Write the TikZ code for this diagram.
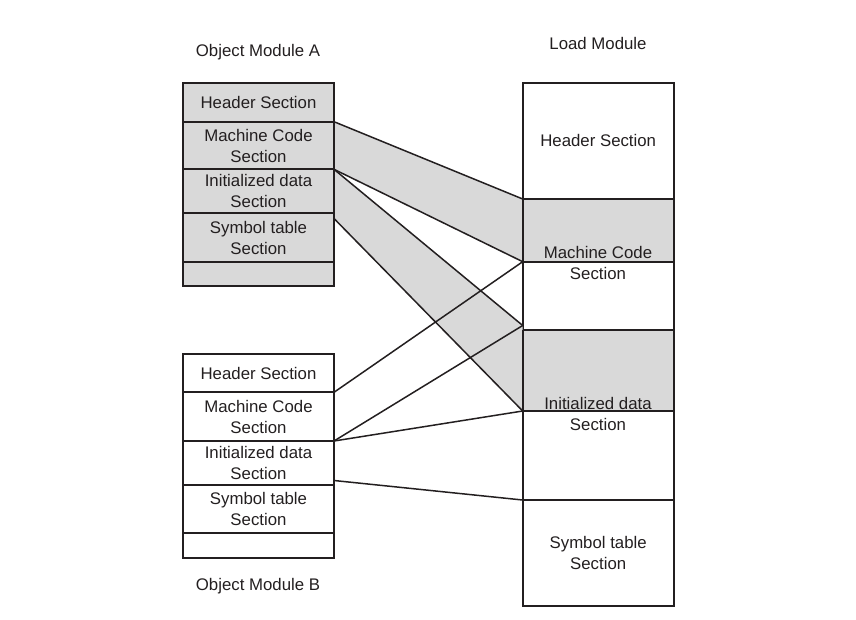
\documentclass[tikz,border=0pt]{standalone}
\usepackage{fontspec}
\setmainfont{Liberation Sans}
\definecolor{secgray}{RGB}{217,217,217}
\definecolor{ink}{RGB}{35,31,32}
\tikzset{
  txt/.style={font=\fontsize{16.8}{21}\selectfont, align=center, inner sep=0pt, text=ink},
  row/.style={txt, draw=ink, line width=1.8pt, minimum width=151pt, anchor=north west, outer sep=0pt},
  grayrow/.style={row, fill=secgray},
  conn/.style={draw=ink, line width=1.5pt},
  band/.style={fill=secgray}
}
\begin{document}
\begin{tikzpicture}[x=1pt,y=-1pt]
\useasboundingbox (0,0) rectangle (856,619);
% Object Module A
\node[grayrow, minimum height=38.7pt] (ahd) at (183,83) {Header Section};
\node[grayrow, minimum height=47.6pt] (amc) at (183,121.7) {Machine Code\\Section};
\node[grayrow, minimum height=44pt] (aid) at (183,169.3) {Initialized data\\Section};
\node[grayrow, minimum height=48.4pt] (ast) at (183,213.3) {Symbol table\\Section};
\node[grayrow, minimum height=24.3pt] (aem) at (183,261.7) {};
% Object Module B
\node[row, minimum height=38.3pt] (bhd) at (183,354) {Header Section};
\node[row, minimum height=48.7pt] (bmc) at (183,392.3) {Machine Code\\Section};
\node[row, minimum height=44pt] (bid) at (183,441) {Initialized data\\Section};
\node[row, minimum height=48.3pt] (bst) at (183,485) {Symbol table\\Section};
\node[row, minimum height=25pt] (bem) at (183,533.3) {};
% Load Module
\node[row, minimum height=116.3pt] (lhd) at (522.7,82.7) {Header Section};
\node[row, fill=secgray, minimum height=62.7pt] (lmcg) at (522.7,199) {};
\node[row, minimum height=68.3pt] (lmcw) at (522.7,261.7) {};
\node[row, fill=secgray, minimum height=81pt] (lidg) at (522.7,330) {};
\node[row, minimum height=89pt] (lidw) at (522.7,411) {};
\node[row, minimum height=106pt] (lst) at (522.7,500) {Symbol table\\Section};
\node[txt] (lmct) at (598,263) {Machine Code\\Section};
\node[txt] (lidt) at (598,414) {Initialized data\\Section};
% titles
\node[txt] (ta) at (258,52) {Object Module A};
\node[txt] (tl) at (598,43) {Load Module};
\node[txt] (tb) at (258,586) {Object Module B};
% coordinates
\coordinate (a3) at (334,218.5);
\coordinate (b4) at (334,480.5);
\coordinate (l3) at (522.7,325.5);
% bands
\fill[band] (amc.north east) -- (lmcg.north west) -- (lmcg.south west) -- (aid.north east) -- cycle;
\fill[band] (aid.north east) -- (l3) -- (lidg.south west) -- (a3) -- cycle;
% redraw borders on top of bands
\draw[draw=ink, line width=1.8pt] (lmcg.north west) -- (lmcg.south west);
\draw[draw=ink, line width=1.8pt] (lidg.north west) -- (lidg.south west);
\draw[draw=ink, line width=1.8pt] (amc.north east) -- (ast.south east);
% connectors from A
\draw[conn] (amc.north east) -- (lmcg.north west);
\draw[conn] (aid.north east) -- (lmcg.south west);
\draw[conn] (aid.north east) -- (l3);
\draw[conn] (a3) -- (lidg.south west);
% connectors from B
\draw[conn] (bmc.north east) -- (lmcg.south west);
\draw[conn] (bid.north east) -- (l3);
\draw[conn] (bid.north east) -- (lidg.south west);
\draw[conn] (b4) -- (lst.north west);
\end{tikzpicture}
\end{document}
